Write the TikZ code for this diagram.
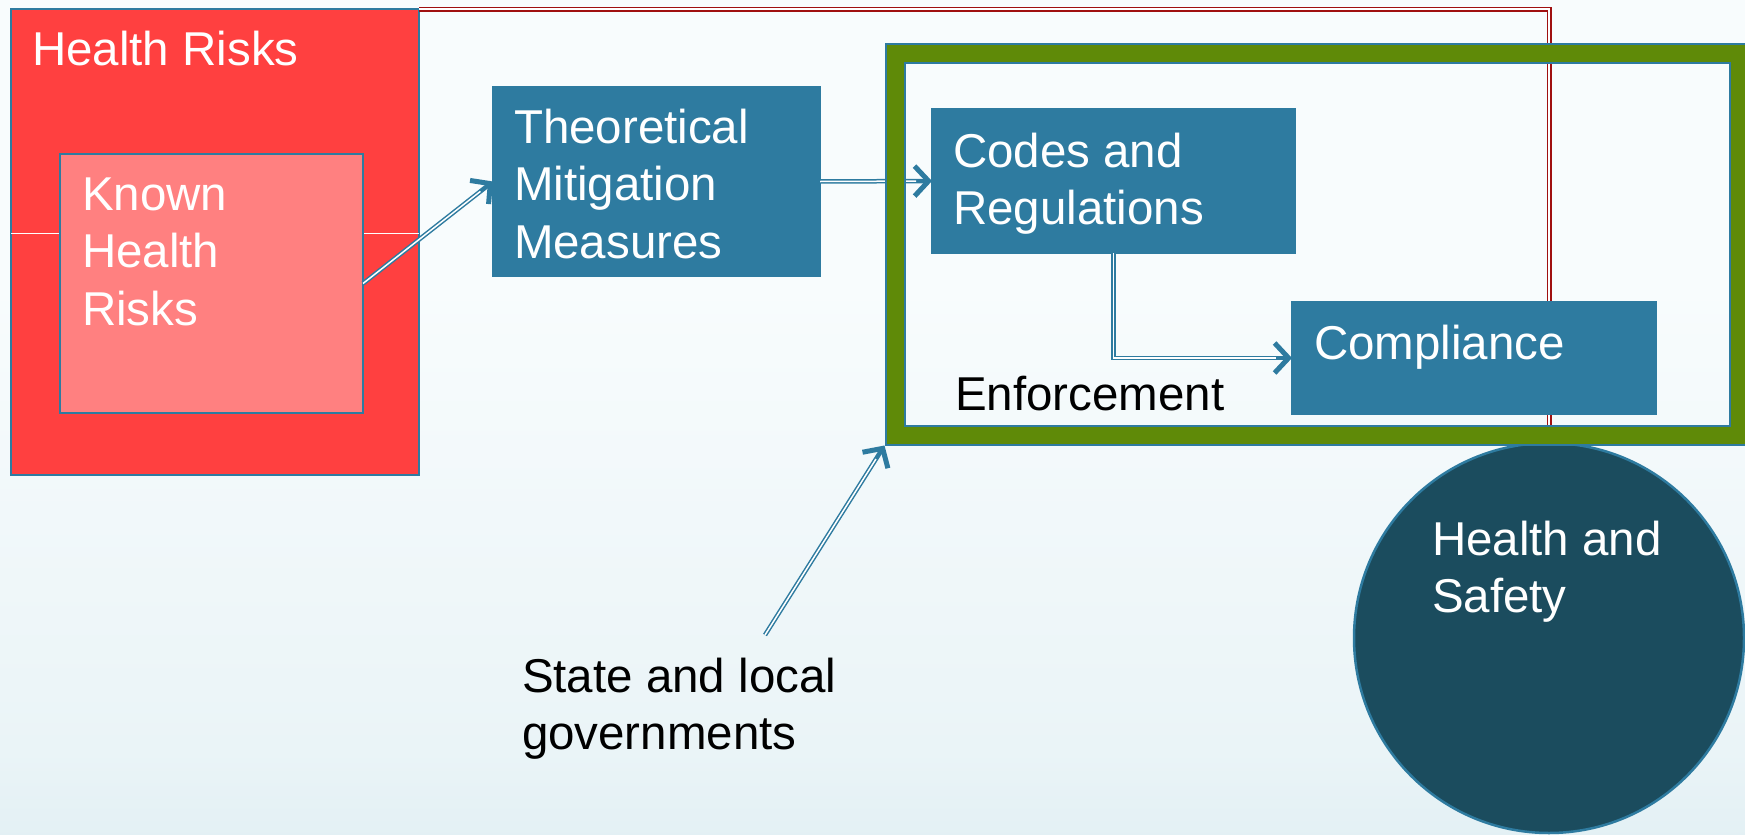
\documentclass[tikz,border=0pt]{standalone}
\usepackage{fontspec}
\setmainfont{Liberation Sans}
\usetikzlibrary{arrows.meta}
\definecolor{cblue}{HTML}{2E7BA0}
\definecolor{ggreen}{HTML}{5F8A08}
\definecolor{hred}{HTML}{FF4040}
\definecolor{hpink}{HTML}{FF8080}
\definecolor{hsteal}{HTML}{1B4C5E}
\definecolor{redline}{HTML}{A01010}
\definecolor{bgtop}{HTML}{F8FCFD}
\definecolor{bgmid}{HTML}{EAF4F7}
\definecolor{bgbot}{HTML}{C2DEE7}
\pgfdeclareverticalshading{bgshade}{100bp}{color(0bp)=(bgbot); color(30bp)=(bgmid); color(58bp)=(bgtop); color(100bp)=(bgtop)}
\newcommand{\blk}[1]{\parbox[t]{12cm}{\raggedright #1}}
\begin{document}
\begin{tikzpicture}[x=1pt,y=-1pt,
  every node/.style={inner sep=0pt, outer sep=0pt},
  box/.style={rectangle, draw=cblue, line width=2pt, anchor=north west},
  lbl/.style={anchor=base west, font=\fontsize{47.5}{57.5}\selectfont, text=white},
  dlbl/.style={lbl, text=black},
  dbl/.style={draw=cblue, line width=4.5pt, line join=miter,
    -{Straight Barb[length=14pt,width=30pt,line width=5pt]},
    postaction={draw=white, line width=1.5pt, -, shorten >=16pt}},
  redconn/.style={draw=redline, line width=1.8pt, double=white, double distance=1.4pt, line join=miter}
]
\useasboundingbox (0,0) rectangle (1745,835);
\clip (0,0) rectangle (1745,835);
\shade[shading=bgshade] (0,0) rectangle (1745,835);

% Health Risks boxes
\node[box, fill=hred, minimum width=408pt, minimum height=466pt] (hr) at (11,9) {};
\draw[white, line width=1pt] ([yshift=9pt]hr.west) -- ([yshift=9pt]hr.east);
\node[box, fill=hpink, minimum width=303pt, minimum height=259pt] (khr) at (60,154) {};
\node[lbl] (hrt) at (32,65) {Health Risks};
\node[lbl] (khrt) at (82,210) {\blk{Known\\Health\\Risks}};

% circle
\node[circle, fill=hsteal, draw=cblue, line width=2.5pt, minimum size=390pt] (hs) at (1549,638) {};
\node[lbl] (hst) at (1432,555) {\blk{Health and\\Safety}};

% red connector behind the frame
\draw[redconn] (hr.north east) -| (hs.north);

% blue boxes
\node[box, fill=cblue, minimum width=327pt, minimum height=189pt] (tmm) at (493,87) {};
\node[lbl] (tmmt) at (514,143) {\blk{Theoretical\\Mitigation\\Measures}};
\node[box, fill=cblue, minimum width=363pt, minimum height=144pt] (cr) at (932,109) {};
\node[lbl] (crt) at (953,167) {\blk{Codes and\\Regulations}};
\node[box, fill=cblue, minimum width=364pt, minimum height=112pt] (comp) at (1292,302) {};
\node[lbl] (compt) at (1314,359) {Compliance};

% connectors
\draw[dbl] (khr.east) -- (tmm.west);
\draw[dbl] (tmm.east) -- (cr.west);
\draw[dbl] (cr.south) |- (comp.west);

% enforcement frame
\node[rectangle, anchor=north west, draw=cblue, line width=2pt, double=ggreen, double distance=17pt,
  minimum width=844.5pt, minimum height=381.5pt] (enf) at (895,53.5) {};
\node[dlbl] (enft) at (955,410) {Enforcement};

% state and local governments
\node[dlbl] (gov) at (522,692) {\blk{State and local\\governments}};
\coordinate (govtop) at (765,635);
\draw[dbl] (govtop) -- ([shift={(-10.5,10.5)}]enf.south west);
\end{tikzpicture}
\end{document}
